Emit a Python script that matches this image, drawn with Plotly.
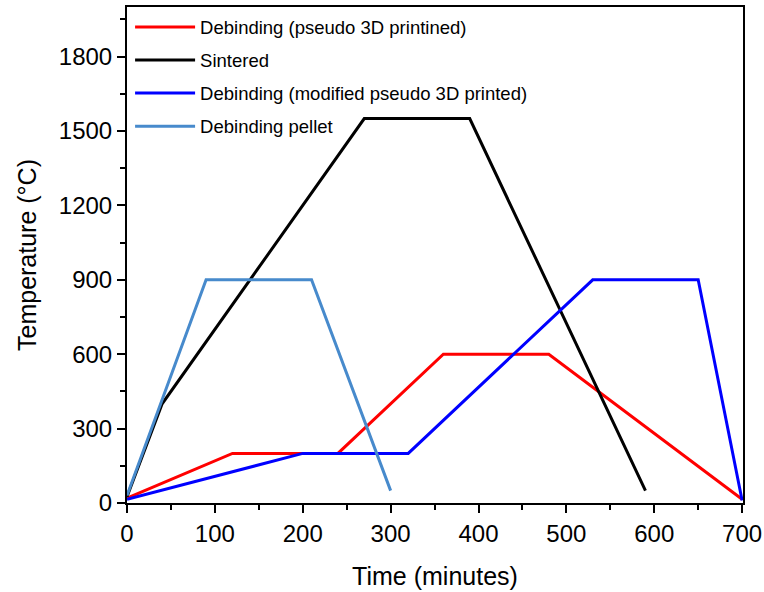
import plotly.graph_objects as go

# Data
red_name = "Debinding (pseudo 3D printined)"
red_t = [0, 120, 240, 360, 480, 700]
red_T = [20, 200, 200, 600, 600, 15]

black_name = "Sintered"
black_t = [0, 40, 270, 390, 590]
black_T = [25, 400, 1550, 1550, 50]

blue_name = "Debinding (modified pseudo 3D printed)"
blue_t = [0, 200, 320, 530, 650, 700]
blue_T = [15, 200, 200, 900, 900, 10]

pellet_name = "Debinding pellet"
pellet_t = [0, 90, 210, 300]
pellet_T = [30, 900, 900, 50]

x_ticks = [0, 100, 200, 300, 400, 500, 600, 700]
y_ticks = [0, 300, 600, 900, 1200, 1500, 1800]

font = "Liberation Sans, Arial, sans-serif"

fig = go.Figure()
for name, t, T, c in [
    (red_name, red_t, red_T, "#FF0000"),
    (black_name, black_t, black_T, "#000000"),
    (blue_name, blue_t, blue_T, "#0000FF"),
    (pellet_name, pellet_t, pellet_T, "#478ACC"),
]:
    fig.add_trace(go.Scatter(x=t, y=T, mode="lines", name=name, legendgroup=name,
                             line=dict(color=c, width=3)))

axis_common = dict(
    showgrid=False, zeroline=False, showline=True, linecolor="black", linewidth=2,
    mirror=True, ticks="outside", ticklen=8, tickwidth=1.5, tickcolor="black",
    tickfont=dict(family=font, size=24, color="black"), automargin=False,
)

fig.update_xaxes(range=[0, 701], tickvals=x_ticks,
                 minor=dict(dtick=50, ticks="outside", ticklen=5, tickwidth=1.5, tickcolor="black"),
                 title=dict(text="Time (minutes)", font=dict(family=font, size=25, color="black"), standoff=22),
                 **axis_common)
fig.update_yaxes(range=[0, 2000], tickvals=y_ticks,
                 minor=dict(dtick=150, ticks="outside", ticklen=5, tickwidth=1.5, tickcolor="black"),
                 title=dict(text="Temperature (°C)", font=dict(family=font, size=25, color="black"), standoff=15),
                 **axis_common)

fig.update_layout(
    width=764, height=592,
    margin=dict(l=127, r=21, t=7, b=89),
    paper_bgcolor="white", plot_bgcolor="white",
    font=dict(family=font, color="black"),
    legend=dict(x=0.005, y=0.997, xanchor="left", yanchor="top",
                font=dict(family=font, size=18.5, color="black"),
                bgcolor="rgba(0,0,0,0)", tracegroupgap=6, itemwidth=60),
)

fig.write_html("out.html")
